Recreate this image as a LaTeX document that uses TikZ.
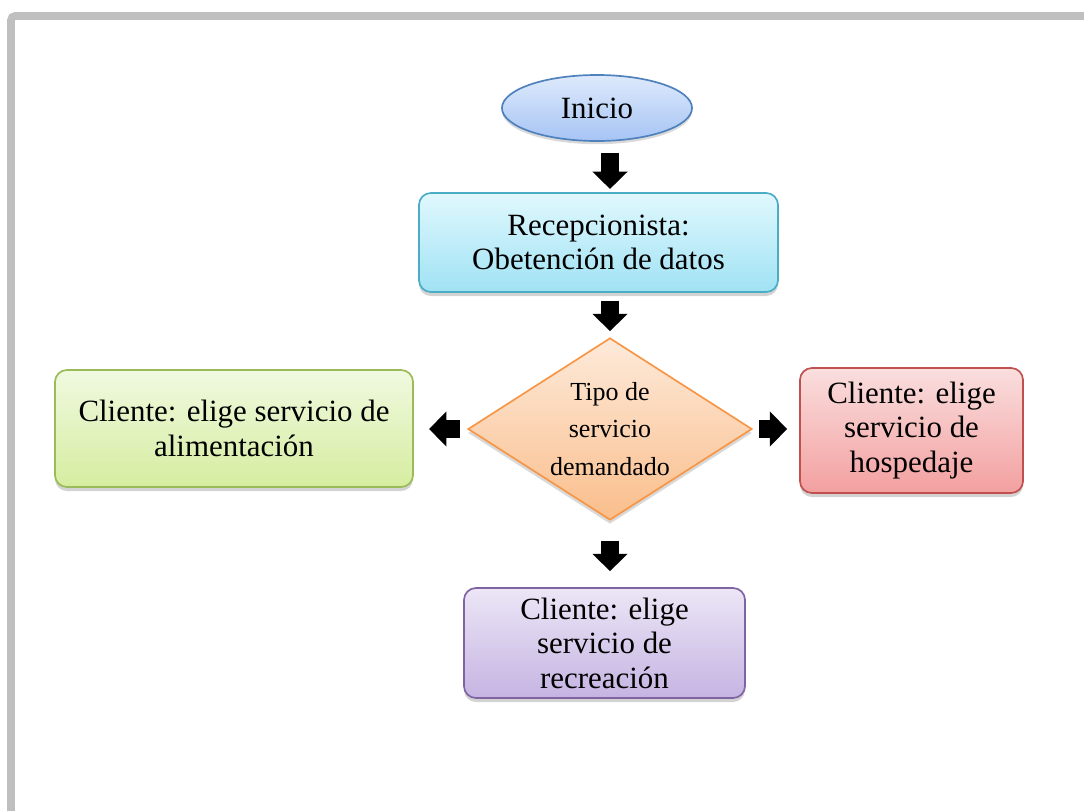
\documentclass[tikz,border=0pt]{standalone}
\usepackage{fontspec}
\setmainfont{Liberation Serif}
\usetikzlibrary{shapes.geometric,arrows.meta,shadows}

\definecolor{framegray}{RGB}{191,191,191}
\definecolor{inicioline}{RGB}{79,129,189}
\definecolor{recepline}{RGB}{75,172,198}
\definecolor{tipoline}{RGB}{247,150,70}
\definecolor{alimline}{RGB}{155,187,89}
\definecolor{hospline}{RGB}{192,80,77}
\definecolor{recrline}{RGB}{128,100,162}

\begin{document}
\begin{tikzpicture}[
            x=0.025cm, y=-0.025cm,
            box/.style={rectangle, rounded corners=0.3cm, line width=1.2pt, align=center, inner sep=0pt,
                        font=\fontsize{22}{24.5}\selectfont,
                        drop shadow={shadow xshift=0pt, shadow yshift=-0.1cm, opacity=0.35}},
            startnode/.style={ellipse, draw=inicioline, line width=1.2pt, top color={rgb,255:red,222;green,234;blue,252},
                        bottom color={rgb,255:red,166;green,196;blue,244}, minimum width=4.75cm, minimum height=1.65cm,
                        font=\fontsize{22}{24.5}\selectfont, drop shadow={shadow xshift=0pt, shadow yshift=-0.08cm, opacity=0.3}},
            decision/.style={diamond, draw=tipoline, line width=1.2pt, aspect=1.56, inner sep=0pt,
                        minimum width=7.1cm, minimum height=4.55cm, align=center,
                        top color={rgb,255:red,253;green,234;blue,218}, bottom color={rgb,255:red,250;green,190;blue,140},
                        font=\fontsize{18.5}{26.5}\selectfont, drop shadow={shadow xshift=0pt, shadow yshift=-0.1cm, opacity=0.3}},
            barrow/.style={-{Triangle[width=0.85cm, length=0.43cm]}, line width=0.45cm, black}
        ]
            \useasboundingbox (0,0) rectangle (1084,810);
            % gray frame
            \draw[framegray, line width=0.19cm, rounded corners=0.1cm] (11,820) -- (11,16) -- (1095,16);

            \node[startnode] (inicio) at (597,108) {Inicio};
            \node[box, draw=recepline, top color={rgb,255:red,224;green,248;blue,253}, bottom color={rgb,255:red,160;green,226;blue,244},
                  minimum width=8.975cm, minimum height=2.475cm] (recep) at (598.5,242.5) {Recepcionista:\\Obetención de datos};
            \node[decision] (tipo) at (610,429) {Tipo de\\servicio\\demandado};
            \node[box, draw=alimline, top color={rgb,255:red,240;green,249;blue,224}, bottom color={rgb,255:red,214;green,237;blue,160},
                  minimum width=8.95cm, minimum height=2.925cm] (alim) at (234,428.5) {Cliente: elige servicio de\\alimentación};
            \node[box, draw=hospline, top color={rgb,255:red,250;green,222;blue,222}, bottom color={rgb,255:red,243;green,160;blue,160},
                  minimum width=5.575cm, minimum height=3.125cm] (hosp) at (911.5,430.5) {Cliente: elige\\servicio de\\hospedaje};
            \node[box, draw=recrline, top color={rgb,255:red,236;green,230;blue,246}, bottom color={rgb,255:red,197;green,180;blue,226},
                  minimum width=7.025cm, minimum height=2.75cm] (recr) at (604.5,643) {Cliente: elige\\servicio de\\recreación};

            \draw[barrow, shorten <=0.27cm, shorten >=0.08cm] (inicio.south -| tipo.north) -- (recep.north -| tipo.north);
            \draw[barrow, shorten <=0.2cm, shorten >=0.15cm] (recep.south -| tipo.north) -- (tipo.north);
            \draw[barrow, shorten <=0.18cm, shorten >=0.38cm] (tipo.west) -- (tipo.west -| alim.east);
            \draw[barrow, shorten <=0.15cm, shorten >=0.3cm] (tipo.east) -- (tipo.east -| hosp.west);
            \draw[barrow, shorten <=0.5cm, shorten >=0.4cm] (tipo.south) -- (recr.north -| tipo.south);
        \end{tikzpicture}
\end{document}
